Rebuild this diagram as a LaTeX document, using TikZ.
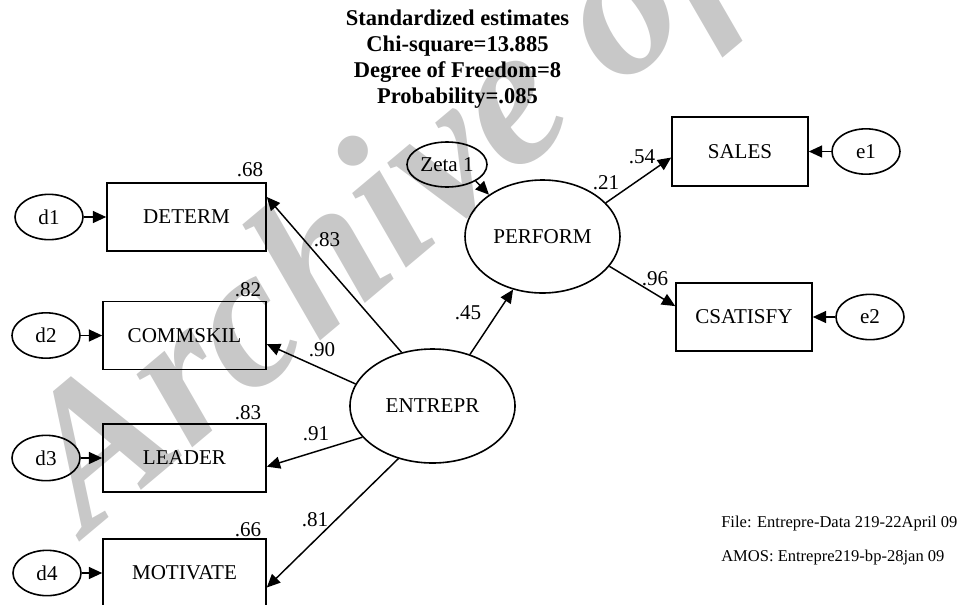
\documentclass[tikz,border=0pt]{standalone}
\usepackage{fontspec}
\setmainfont{Liberation Serif}
\usetikzlibrary{shapes.geometric,arrows.meta}
\definecolor{wmgray}{RGB}{200,200,200}
\tikzset{font={\fontsize{15.8pt}{18pt}\selectfont}}
\tikzset{
  var/.style={draw,line width=1.2pt,rectangle,minimum width=122.25pt,minimum height=51pt,inner sep=0pt},
  lat/.style={draw,line width=1.2pt,ellipse,inner sep=0pt},
  err/.style={lat,minimum width=51pt,minimum height=34pt},
  arr/.style={-{Triangle[length=10pt,width=9pt]},line width=1.1pt},
  coef/.style={inner sep=0pt},
  foot/.style={inner sep=0pt,anchor=west,font={\fontsize{12.4pt}{14pt}\selectfont}}
}

\begin{document}
\begin{tikzpicture}[x=0.75pt,y=-0.75pt]
      \useasboundingbox (0,0) rectangle (971,604);
      %watermark
      \node[wmgray,rotate=40,anchor=base west,inner sep=0pt,
        font={\fontsize{150pt}{150pt}\selectfont\bfseries\itshape}] (wm) at (87,536) {Archive of SID};
      %fit
      \node[align=center,inner sep=0pt,font={\fontsize{16.9pt}{19.5pt}\selectfont\bfseries}] (fit) at (457.5,59)
        {Standardized estimates\\Chi-square=13.885\\Degree of Freedom=8\\Probability=.085};
      %observed
      \node[var,minimum width=119.25pt] (DETERM) at (186.5,217) {DETERM};
      \node[var] (COMMSKIL) at (184.5,335.5) {COMMSKIL};
      \node[var] (LEADER) at (184.5,458) {LEADER};
      \node[var] (MOTIVATE) at (184.5,573) {MOTIVATE};
      \node[var,minimum width=102pt,minimum height=51.75pt] (SALES) at (740,151.5) {SALES};
      \node[var,minimum width=102pt] (CSATISFY) at (744,317) {CSATISFY};
      %latent
      \node[lat,minimum width=123.75pt,minimum height=85.5pt] (ENTREPR) at (432.5,406) {ENTREPR};
      \node[lat,minimum width=116.25pt,minimum height=84.75pt] (PERFORM) at (542.5,236.5) {PERFORM};
      %errors
      \node[err] (d1) at (49,217) {d1};
      \node[err] (d2) at (46,335.5) {d2};
      \node[err] (d3) at (46,458) {d3};
      \node[err] (d4) at (47,573) {d4};
      \node[err] (e1) at (866,151.5) {e1};
      \node[err] (e2) at (870,317) {e2};
      \node[lat,minimum width=60pt,minimum height=33.75pt] (zeta) at (447,164.5) {Zeta 1};
      %paths
      \foreach \d/\v in {d1/DETERM,d2/COMMSKIL,d3/LEADER,d4/MOTIVATE}
	\draw[arr] (\d) -- (\v);
      \foreach \e/\v in {e1/SALES,e2/CSATISFY}
	\draw[arr] (\e) -- (\v);
      \draw[arr] (ENTREPR.120.4) -- (DETERM.14);
      \draw[arr] (ENTREPR.164) -- (COMMSKIL.-6.6);
      \draw[arr] (ENTREPR.204) -- (LEADER.-6.3);
      \draw[arr] (ENTREPR.237) -- (MOTIVATE.-10.4);
      \draw[arr] (ENTREPR.54.7) -- (PERFORM.241);
      \draw[arr] (zeta.-30.8) -- (PERFORM.142);
      \draw[arr] (PERFORM.28.5) -- (SALES.185.5);
      \draw[arr] (PERFORM.-24.3) -- (CSATISFY.171.8);
      %labels
      \node[coef] (r68) at (250,170) {.68};
      \node[coef] (r82) at (248,290) {.82};
      \node[coef] (r83) at (248,413) {.83};
      \node[coef] (r66) at (248,530) {.66};
      \node[coef] (b83) at (327,240) {.83};
      \node[coef] (b90) at (322,350) {.90};
      \node[coef] (b91) at (316,434) {.91};
      \node[coef] (b81) at (315,520) {.81};
      \node[coef] (b45) at (468,313) {.45};
      \node[coef] (r21) at (606,183) {.21};
      \node[coef] (b54) at (642,157) {.54};
      \node[coef] (b96) at (655,279) {.96};
      %files
      \node[foot] (file) at (721,524) {File: Entrepre-Data 219-22April 09};
      \node[foot] (amos) at (721,558) {AMOS: Entrepre219-bp-28jan 09};
    \end{tikzpicture}
\end{document}
